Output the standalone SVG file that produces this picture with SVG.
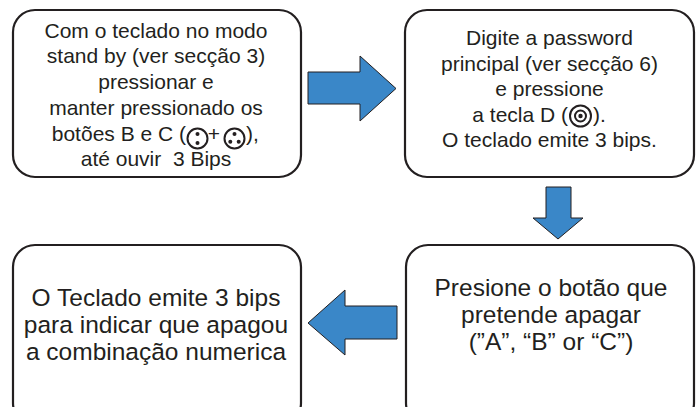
<svg xmlns="http://www.w3.org/2000/svg" width="696" height="407" viewBox="0 0 696 407">
<style>
.box{fill:#fff;stroke:#231f20;stroke-width:2.2}
.t{font-family:"Liberation Sans",Arial,Helvetica,sans-serif;fill:#231f20;text-anchor:middle}
.s{font-size:21px}
.b{font-size:24.5px}
.arr{fill:#3a87c8;stroke:#231f20;stroke-width:1}
.ic{fill:none;stroke:#231f20;stroke-width:2}
.dot{fill:#231f20}
</style>
<rect width="696" height="407" fill="#fff"/>
<g id="node1">
<rect class="box" x="13" y="10" width="288" height="167" rx="22"/>
<text class="t s" x="156" y="38">Com o teclado no modo</text>
<text class="t s" x="156" y="63">stand by (ver secção 3)</text>
<text class="t s" x="156" y="89">pressionar e</text>
<text class="t s" x="156" y="115">manter pressionado os</text>
<text class="t s" x="186" y="141" style="text-anchor:end">botões B e C (</text>
<circle class="ic" cx="197.5" cy="138.5" r="10"/>
<circle class="dot" cx="197.5" cy="134" r="2"/>
<circle class="dot" cx="197.5" cy="143" r="2"/>
<text class="t s" x="214" y="141">+</text>
<circle class="ic" cx="234.5" cy="138.5" r="10"/>
<circle class="dot" cx="234.5" cy="134" r="2"/>
<circle class="dot" cx="230.3" cy="141.8" r="2"/>
<circle class="dot" cx="238.7" cy="141.8" r="2"/>
<text class="t s" x="246" y="141" style="text-anchor:start">),</text>
<text class="t s" x="156" y="166">até ouvir&#160; 3 Bips</text>
</g>
<g id="node2">
<rect class="box" x="405" y="10" width="289" height="167" rx="22"/>
<text class="t s" x="549.5" y="45">Digite a password</text>
<text class="t s" x="549.5" y="71">principal (ver secção 6)</text>
<text class="t s" x="549.5" y="96">e pressione</text>
<text class="t s" x="568" y="122" style="text-anchor:end">a tecla D (</text>
<circle class="ic" cx="580.5" cy="116" r="10.5"/>
<circle class="ic" cx="580.5" cy="116" r="5.5"/>
<circle class="dot" cx="580.5" cy="116" r="2.2"/>
<text class="t s" x="593" y="122" style="text-anchor:start">).</text>
<text class="t s" x="549.5" y="147">O teclado emite 3 bips.</text>
</g>
<g id="node3">
<rect class="box" x="406" y="245" width="288" height="180" rx="22"/>
<text class="t b" x="551" y="296">Presione o botão que</text>
<text class="t b" x="551" y="323">pretende apagar</text>
<text class="t b" x="551" y="350">(”A”, “B” or “C”)</text>
</g>
<g id="node4">
<rect class="box" x="13" y="245" width="288" height="180" rx="22"/>
<text class="t b" x="156" y="306">O Teclado emite 3 bips</text>
<text class="t b" x="156" y="333">para indicar que apagou</text>
<text class="t b" x="156" y="360">a combinação numerica</text>
</g>
<g id="connectors">
<polygon class="arr" points="308,72 360,72 360,56 396,88.5 360,121 360,104 308,104"/>
<polygon class="arr" points="546,187 571,187 571,218 583,218 558,239 533,218 546,218"/>
<polygon class="arr" points="397,306 345,306 345,290 308,323 345,355 345,339 397,339"/>
</g>
</svg>
